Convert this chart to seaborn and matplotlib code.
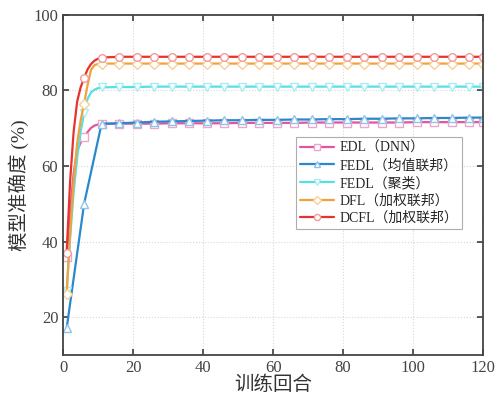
import pandas as pd
import matplotlib
matplotlib.use('Agg')
import matplotlib.pyplot as plt
import seaborn as sns

################################################################################
# data

# early rounds, then one point every 5 rounds
x_fine = [1, 2, 3, 4, 5, 6, 7, 8, 9, 10, 11,
          16, 21, 26, 31, 36, 41, 46, 51, 56, 61, 66,
          71, 76, 81, 86, 91, 96, 101, 106, 111, 116, 120]
x_coarse = [1, 6, 11,
            16, 21, 26, 31, 36, 41, 46, 51, 56, 61, 66,
            71, 76, 81, 86, 91, 96, 101, 106, 111, 116, 120]

edl = [36.0, 48.0, 58.0, 64.0, 66.2, 67.6, 69.0, 70.1, 70.7, 71.0, 71.1,
       71.2, 71.2, 71.2, 71.3, 71.3, 71.3, 71.3, 71.4, 71.4, 71.4, 71.4,
       71.5, 71.5, 71.5, 71.5, 71.5, 71.5, 71.6, 71.6, 71.6, 71.6, 71.6]
fedl_mean = [17.0, 50.0, 71.2,
             71.3, 71.5, 71.7, 71.8, 71.9, 72.0, 72.1, 72.1, 72.2, 72.2, 72.3,
             72.3, 72.4, 72.4, 72.5, 72.5, 72.6, 72.6, 72.7, 72.7, 72.8, 72.8]
fedl_cluster = [27.0, 41.0, 53.0, 62.0, 69.0, 74.0, 77.8, 79.5, 80.2, 80.6, 80.8,
                80.9, 80.9, 81.0, 81.0, 81.0, 81.0, 81.0, 81.0, 81.0, 81.0, 81.0,
                81.0, 81.0, 81.0, 81.0, 81.0, 81.0, 81.0, 81.0, 81.0, 81.0, 81.0]
dfl = [26.0, 42.0, 56.0, 66.0, 72.0, 76.5, 81.5, 85.5, 86.7, 87.0, 87.1,
       87.1, 87.1, 87.1, 87.1, 87.1, 87.1, 87.1, 87.1, 87.1, 87.1, 87.1,
       87.1, 87.1, 87.1, 87.1, 87.1, 87.1, 87.1, 87.1, 87.1, 87.1, 87.1]
dcfl = [37.0, 56.0, 69.0, 77.0, 80.8, 83.3, 85.6, 87.0, 87.9, 88.4, 88.7,
        88.9, 88.9, 88.9, 88.9, 88.9, 88.9, 88.9, 88.9, 88.9, 88.9, 88.9,
        88.9, 88.9, 88.9, 88.9, 88.9, 88.9, 88.9, 88.9, 88.9, 88.9, 88.9]

labels = ['EDL（DNN）', 'FEDL（均值联邦）', 'FEDL（聚类）', 'DFL（加权联邦）', 'DCFL（加权联邦）']
x_ticks = [0, 20, 40, 60, 80, 100, 120]
y_ticks = [20, 40, 60, 80, 100]

################################################################################

sns.set_theme(style='ticks')
plt.rcParams['font.family'] = ['Liberation Serif', 'Noto Sans CJK SC']
plt.rcParams['xtick.direction'] = 'in'
plt.rcParams['ytick.direction'] = 'in'

# marker on round 1 and every 5 rounds after that
fine_marks = [0, 5] + list(range(10, len(x_fine)))

series = [
    (x_fine, edl, labels[0], '#e0559f', '#f0a6cc', 's', fine_marks),
    (x_coarse, fedl_mean, labels[1], '#2a88cc', '#8fc4ea', '^', None),
    (x_fine, fedl_cluster, labels[2], '#56dfe6', '#a8eef2', 'v', fine_marks),
    (x_fine, dfl, labels[3], '#f0a23c', '#f7cf98', 'D', fine_marks),
    (x_fine, dcfl, labels[4], '#e5332f', '#f19a98', 'o', fine_marks),
]

fig, ax = plt.subplots(figsize = (4.97, 4.01), dpi = 100)

for xs, ys, label, color, edge, marker, marks in series:
    df = pd.DataFrame({'round': xs, 'acc': ys})
    sns.lineplot(
        data = df, x = 'round', y = 'acc', ax = ax, label = label,
        color = color, linewidth = 1.6, marker = marker,
        markersize = 5.5 if marker != 'D' else 4.8,
        markerfacecolor = 'white', markeredgecolor = edge, markeredgewidth = 1.0,
        markevery = marks
    )

ax.set_xlim(0, 120)
ax.set_ylim(10, 100)
ax.set_xticks(x_ticks)
ax.set_yticks(y_ticks)
ax.tick_params(labelsize = 12, colors = '#444444', length = 4, top = True, right = True)
ax.grid(True, linestyle = ':', color = '#d8d8d8', linewidth = 0.8)

for side in ['left', 'bottom', 'top', 'right']:
    ax.spines[side].set_color('#444444')
    ax.spines[side].set_linewidth(1.3)

ax.set_xlabel('训练回合', fontsize = 14, color = '#333333', labelpad = 0)
ax.set_ylabel('模型准确度 (%)', fontsize = 14, color = '#333333', labelpad = 3)

leg = ax.legend(loc = 'upper left', bbox_to_anchor = (0.555, 0.64), fontsize = 10,
                frameon = True, fancybox = False, edgecolor = '#999999',
                labelspacing = 0.3, handlelength = 2.4, borderpad = 0.3,
                handletextpad = 0.4, borderaxespad = 0, markerscale = 0.8)
leg.get_frame().set_linewidth(0.8)

fig.subplots_adjust(left = 0.127, right = 0.972, top = 0.963, bottom = 0.115)
fig.savefig('out.png', dpi = 100)
